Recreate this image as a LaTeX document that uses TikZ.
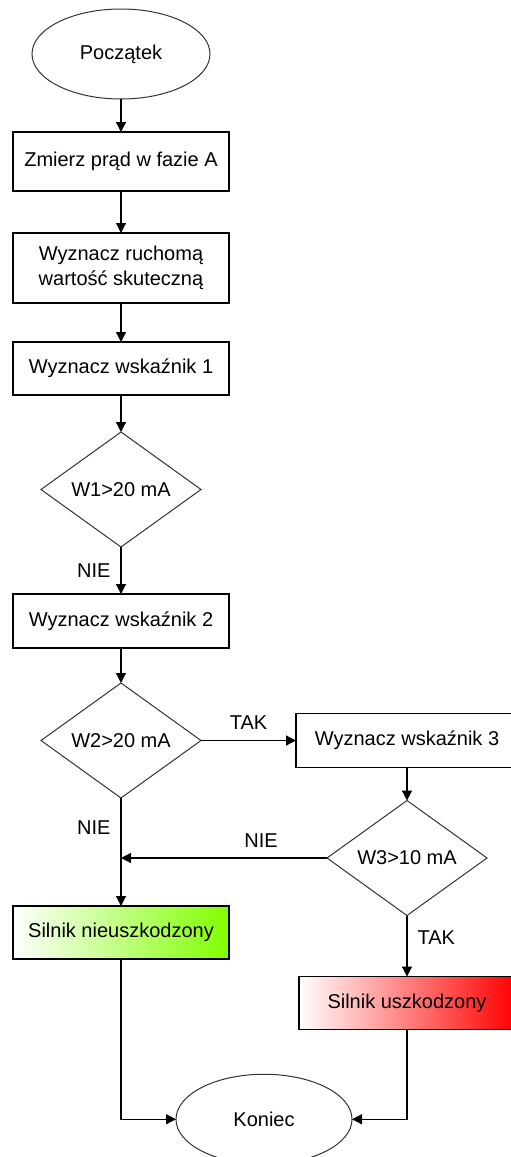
\documentclass[tikz,border=0pt]{standalone}
\usepackage{fontspec}
\setmainfont{Liberation Sans}
\usepackage{tikz}
\usetikzlibrary{shapes.geometric, arrows.meta, positioning, calc}

\definecolor{okgreen}{RGB}{128,255,0}
\definecolor{badred}{RGB}{255,0,0}

\begin{document}
\begin{tikzpicture}[
        font=\fontsize{10pt}{12.5pt}\selectfont,
        >={Triangle[length=5pt, width=5pt]},
        terminal/.style={ellipse, draw=black!80, line width=0.5pt, minimum width=89pt, minimum height=45pt, inner sep=0pt, outer sep=0pt},
        process/.style={rectangle, draw, line width=0.7pt, minimum width=108pt, minimum height=27pt, align=center, outer sep=0pt},
        decision/.style={diamond, draw=black!80, line width=0.5pt, aspect=1.4, minimum width=80pt, minimum height=57.5pt, inner sep=0pt, outer sep=0pt},
        lbl/.style={inner sep=5pt},
        flow/.style={draw, line width=0.6pt, ->}
    ]
        \useasboundingbox (0,0) rectangle (255pt,-578.5pt);

        \node (start) [terminal] at (60.5pt,-27pt) {Początek};
        \node (measure) [process, minimum height=29.5pt, below=16.5pt of start] {Zmierz prąd w fazie A};
        \node (rms) [process, minimum height=35pt, below=21pt of measure] {Wyznacz ruchomą\\wartość skuteczną};
        \node (ind1) [process, minimum height=26.5pt, below=19.5pt of rms] {Wyznacz wskaźnik 1};
        \node (dec1) [decision, below=18.5pt of ind1] {W1>20 mA};
        \node (ind2) [process, below=23.5pt of dec1] {Wyznacz wskaźnik 2};
        \node (dec2) [decision, below=17.5pt of ind2] {W2>20 mA};
        \node (ind3) [process, minimum width=111pt, right=47.5pt of dec2] {Wyznacz wskaźnik 3};
        \node (dec3) [decision, below=16.5pt of ind3] {W3>10 mA};
        \node (good) [process, minimum height=26.5pt, left color=white, right color=okgreen, below=54pt of dec2] {Silnik nieuszkodzony};
        \node (bad) [process, minimum height=26.5pt, left color=white, right color=badred, below=30.5pt of dec3] {Silnik uszkodzony};
        \coordinate (mid) at ($(good.south)!0.5!(bad.south)$);
        \node (end) [terminal, minimum width=88pt, below=40pt of mid] {Koniec};

        \draw [flow] (start) -- (measure);
        \draw [flow] (measure) -- (rms);
        \draw [flow] (rms) -- (ind1);
        \draw [flow] (ind1) -- (dec1);
        \draw [flow] (dec1) -- node [lbl, left] {NIE} (ind2);
        \draw [flow] (ind2) -- (dec2);
        \draw [flow] (dec2) -- node [lbl, above] {TAK} (ind3);
        \draw [flow] (ind3) -- (dec3);
        \draw [flow] (dec2) -- node [lbl, left, pos=0.27] {NIE} (good);
        \draw [flow] (dec3.west) -- node [lbl, above, pos=0.32] {NIE} (dec3.west -| good.north);
        \draw [flow] (dec3) -- node [lbl, right, pos=0.37] {TAK} (bad);
        \draw [flow] (good.south) |- (end.west);
        \draw [flow] (bad.south) |- (end.east);
    \end{tikzpicture}
\end{document}
